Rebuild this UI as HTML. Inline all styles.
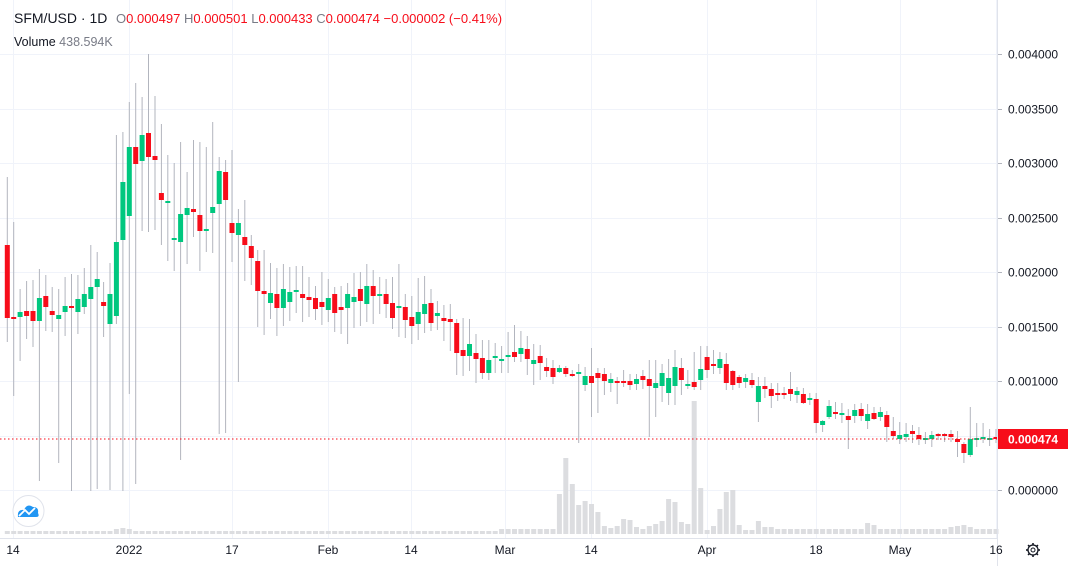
<!DOCTYPE html>
<html><head><meta charset="utf-8"><style>
body{margin:0;background:#fff;width:1082px;height:566px;overflow:hidden;font-family:"Liberation Sans",sans-serif}
svg{position:absolute;left:0;top:0}
</style></head><body>
<svg id="s" width="1082" height="566" xmlns="http://www.w3.org/2000/svg"></svg>
<script>
const D=[
[245,318,177,342],[317,318,222,396],[317,312,289,361],[311,316,281,339],[311,321,280,347],[321,298,269,481],[296,307,275,331],[311,315,287,332],[319,315,289,463],[312,306,277,336],
[306,308,274,491],[312,299,275,334],[307,294,268,314],[299,287,245,491],[287,279,252,489],[302,306,282,337],[324,294,263,490],[316,242,135,324],[240,182,132,491],[216,147,102,394],
[147,164,83,484],[161,135,97,231],[133,157,54,232],[156,160,96,230],[193,200,124,245],[202,201,155,261],[239,238,163,271],[242,214,142,460],[215,208,172,264],[209,212,140,237],
[215,231,142,271],[231,229,147,252],[213,207,122,253],[204,171,157,434],[172,200,160,433],[223,233,150,262],[235,223,209,382],[237,245,200,281],[246,258,235,285],[261,291,250,327],
[291,294,250,335],[303,293,263,319],[294,308,268,336],[308,289,264,326],[302,292,267,321],[292,290,266,313],[294,298,266,322],[297,300,277,317],[298,309,286,320],[302,307,272,325],
[310,298,279,322],[294,313,287,332],[307,310,286,334],[308,294,283,344],[302,297,273,328],[289,301,272,326],[304,286,264,322],[286,296,270,324],[295,294,277,314],[294,304,279,318],
[303,318,277,329],[307,306,264,337],[307,320,294,338],[317,326,296,344],[324,312,278,340],[314,304,276,333],[303,323,289,331],[316,313,301,330],[318,321,305,341],[319,322,304,351],
[323,353,319,375],[350,356,318,376],[356,344,319,371],[353,359,334,383],[358,373,340,379],[373,360,340,380],[358,356,343,373],[360,359,346,373],[357,355,332,373],[352,357,325,362],
[354,348,331,362],[349,359,336,375],[364,360,344,385],[356,363,345,380],[367,371,358,377],[368,377,360,384],[372,368,365,373],[368,374,366,377],[374,376,370,377],[373,372,364,443],
[385,376,367,391],[376,383,348,417],[373,378,368,413],[374,381,368,395],[383,379,373,392],[381,383,377,404],[381,383,370,387],[381,385,374,390],[384,379,374,390],[376,380,370,389],
[379,386,360,437],[388,383,360,417],[386,373,364,402],[393,378,359,405],[386,367,350,405],[368,380,358,395],[386,384,370,389],[382,387,352,390],[380,369,346,390],[357,370,346,378],
[364,365,350,374],[368,359,352,374],[364,383,353,390],[371,385,370,390],[377,383,375,388],[382,378,374,388],[380,385,373,388],[402,386,377,422],[386,389,377,398],[389,396,383,408],
[393,394,383,401],[393,395,387,399],[389,394,372,401],[395,391,387,403],[394,403,388,404],[399,398,393,405],[399,423,393,433],[425,421,420,432],[417,406,400,419],[412,413,402,419],
[414,413,403,423],[416,420,409,449],[416,410,404,423],[409,416,403,421],[421,414,404,429],[413,419,407,420],[417,412,407,421],[415,427,411,442],[431,436,417,439],[439,435,422,444],
[437,434,423,442],[431,434,425,443],[435,439,427,445],[439,438,432,444],[439,435,431,447],[434,435,433,440],[434,436,433,442],[434,437,430,442],[439,442,431,457],[444,453,442,463],
[455,439,407,457],[439,438,423,447],[439,437,423,443],[439,438,429,446],[437,439,429,443]];
const V={87:494,88:458,89:484,90:505,91:501,92:504,93:512,94:526,95:528,96:526,97:519,98:520,99:527,100:529,101:526,102:524,103:521,104:499,105:502,106:522,107:524,108:401,109:488,110:530,111:526,112:509,113:492,114:490,115:525,116:530,117:530,118:521,119:527,120:527,121:529,
18:529,19:528,20:529,135:523,136:525,148:527,149:526,150:525,151:527};
let h='';
const py=[54,109,163,218,272,327,381,436,490];
py.forEach(y=>h+=`<line x1="0" y1="${y+.5}" x2="997" y2="${y+.5}" stroke="#f0f3fa"/>`);
[13,129,232,328,411,505,591,707,816,900,996].forEach(x=>h+=`<line x1="${x+.5}" y1="0" x2="${x+.5}" y2="538" stroke="#f0f3fa"/>`);
for(let i=1;i<=155;i++){const x=7.3+(i-1)*6.42;let t=V[i]||(i<78?531:529);h+=`<rect x="${(x-2.5).toFixed(1)}" y="${t}" width="5" height="${534-t}" fill="#dcdde0"/>`;}
D.forEach((d,k)=>{const x=7.3+k*6.42;let [o,c,hi,lo]=d;const g=c<o;const col=g?'#00c77f':'#f70d1a';
h+=`<line x1="${x.toFixed(1)}" y1="${hi}" x2="${x.toFixed(1)}" y2="${lo}" stroke="#b2b5be" stroke-width="1"/>`;
let t=Math.min(o,c),b=Math.max(o,c);if(b-t<2){b=t+2;}
h+=`<rect x="${(x-2.5).toFixed(1)}" y="${t}" width="5" height="${b-t}" fill="${col}"/>`;});
h+=`<line x1="0" y1="439" x2="997" y2="439" stroke="#f70d1a" stroke-dasharray="1.5,2.5"/>`;
h+=`<line x1="997.5" y1="0" x2="997.5" y2="566" stroke="#e0e3eb"/><line x1="0" y1="538.5" x2="997" y2="538.5" stroke="#e0e3eb"/>`;
const pl=['0.004000','0.003500','0.003000','0.002500','0.002000','0.001500','0.001000','','0.000000'];
pl.forEach((t,i)=>{if(t)h+=`<line x1="998" y1="${py[i]+.5}" x2="1002" y2="${py[i]+.5}" stroke="#b2b5be"/><text x="1008" y="${py[i]+4.5}" font-size="12" fill="#131722">${t}</text>`;});
h+=`<rect x="998" y="429" width="70" height="20" fill="#f70d1a"/><text x="1008" y="443.5" font-size="12" fill="#fff" font-weight="bold">0.000474</text>`;
[[13,'14'],[129,'2022'],[232,'17'],[328,'Feb'],[411,'14'],[505,'Mar'],[591,'14'],[707,'Apr'],[816,'18'],[900,'May'],[996,'16']].forEach(([x,t])=>h+=`<text x="${x}" y="554" font-size="12" fill="#131722" text-anchor="middle">${t}</text>`);
h+=`<text x="14" y="23" font-size="14" fill="#131722">SFM/USD · 1D</text>
<text x="116" y="23" font-size="13"><tspan fill="#787b86">O</tspan><tspan fill="#f70d1a">0.000497</tspan><tspan fill="#787b86"> H</tspan><tspan fill="#f70d1a">0.000501</tspan><tspan fill="#787b86"> L</tspan><tspan fill="#f70d1a">0.000433</tspan><tspan fill="#787b86"> C</tspan><tspan fill="#f70d1a">0.000474 −0.000002 (−0.41%)</tspan></text>
<text x="14" y="46" font-size="12.5" fill="#131722">Volume <tspan fill="#787b86">438.594K</tspan></text>`;
h+=`<circle cx="28.5" cy="511" r="15.5" fill="#fff" stroke="#e0e3eb"/><path d="M18 517 Q17 509 24 510 Q27 503 33 507 Q39 507 38 513 Q40 517 36 517 Z" fill="#2196f3"/><polyline points="19,516 25,510 29,514 35,508" fill="none" stroke="#fff" stroke-width="1.8"/>`;
h+=`<circle cx="1033" cy="550" r="5" fill="none" stroke="#131722" stroke-width="1.3"/><circle cx="1033" cy="550" r="2" fill="none" stroke="#131722"/>`;
for(let a=0;a<8;a++){const r=a*Math.PI/4;h+=`<line x1="${1033+5*Math.cos(r)}" y1="${550+5*Math.sin(r)}" x2="${1033+7*Math.cos(r)}" y2="${550+7*Math.sin(r)}" stroke="#131722" stroke-width="1.6"/>`;}
document.getElementById('s').innerHTML=h;
</script>
</body></html>
